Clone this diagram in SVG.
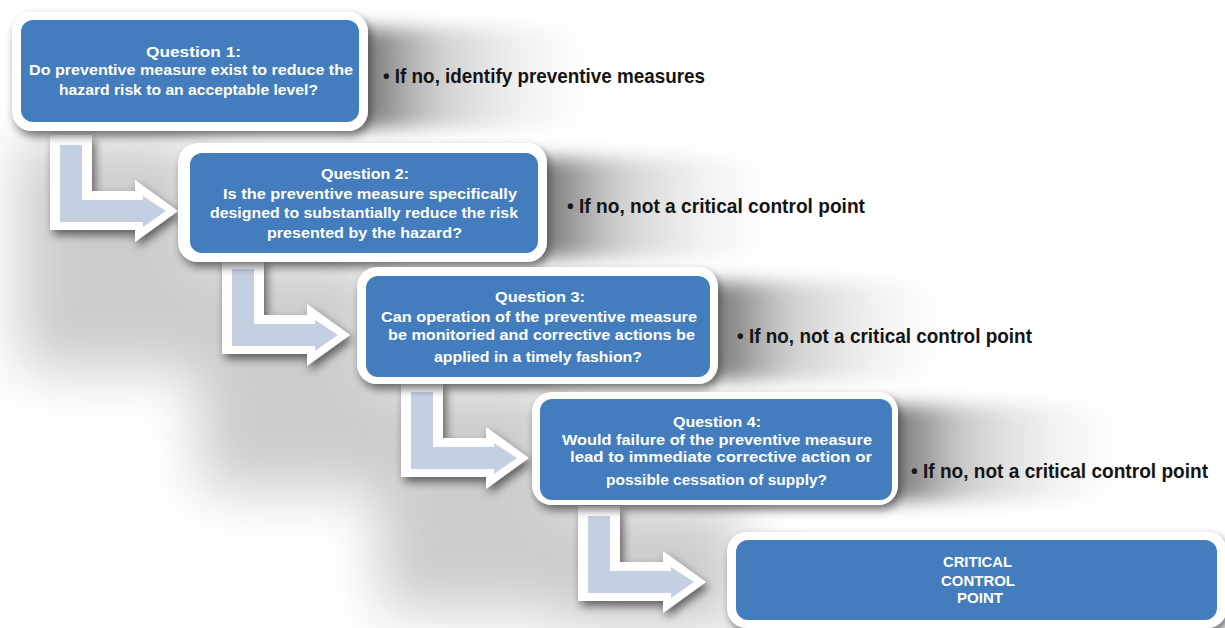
<svg xmlns="http://www.w3.org/2000/svg" width="1225" height="628" viewBox="0 0 1225 628">
<defs>
<style>
.outer{fill:#ffffff;}
.inner{fill:#437DBE;}
.bt{font-family:"Liberation Sans Narrow","Liberation Sans",Arial,sans-serif;font-weight:bold;font-size:15.5px;fill:#ffffff;}
.lb{font-family:"Liberation Sans Narrow","Liberation Sans",Arial,sans-serif;font-weight:bold;font-size:19.5px;fill:#141414;}
.aw{fill:#ffffff;}
.ai{fill:#C5CFE2;}
</style>
<filter id="sh" x="-20%" y="-30%" width="140%" height="160%">
<feGaussianBlur in="SourceAlpha" stdDeviation="5"/>
<feOffset dx="3" dy="5" result="b"/>
<feComponentTransfer><feFuncA type="linear" slope="0.55"/></feComponentTransfer>
<feMerge><feMergeNode/><feMergeNode in="SourceGraphic"/></feMerge>
</filter>
<filter id="blur" x="-30%" y="-30%" width="160%" height="160%">
<feGaussianBlur stdDeviation="28"/>
</filter>
<filter id="soft" x="-20%" y="-40%" width="140%" height="180%">
<feGaussianBlur stdDeviation="9"/>
</filter>
<linearGradient id="lg" x1="0" y1="0" x2="1" y2="0">
<stop offset="0" stop-color="#6a6a6a" stop-opacity="0.95"/>
<stop offset="0.3" stop-color="#b0b0b0" stop-opacity="0.6"/>
<stop offset="1" stop-color="#ffffff" stop-opacity="0"/>
</linearGradient>
<path id="aout" d="M50,135 L92,135 L92,191 L135,191 L135,180 L178,211 L135,242 L135,230 L50,230 Z"/>
<path id="ain" d="M60,145 L82,145 L82,200 L143,200 L143,196 L166,211 L143,227 L143,222 L60,222 Z"/>
</defs>

<g id="background">
<rect x="0" y="0" width="1225" height="628" fill="#ffffff"/>
<g filter="url(#blur)" opacity="0.5">
<polygon points="20,140 200,140 200,260 380,260 380,385 560,385 560,505 740,505 740,628 560,628 560,610 380,610 380,490 200,490 200,370 20,370" fill="#9a9a9a"/>
</g>
<g filter="url(#soft)">
<rect x="362" y="28" width="260" height="100" fill="url(#lg)"/>
<rect x="542" y="158" width="260" height="100" fill="url(#lg)"/>
<rect x="714" y="282" width="260" height="98" fill="url(#lg)"/>
<rect x="892" y="405" width="260" height="96" fill="url(#lg)"/>
</g>
</g>

<g id="connectors">
<g filter="url(#sh)"><use href="#aout" class="aw"/><use href="#ain" class="ai"/></g>
<g filter="url(#sh)" transform="translate(172,124)"><use href="#aout" class="aw"/><use href="#ain" class="ai"/></g>
<g filter="url(#sh)" transform="translate(351,247)"><use href="#aout" class="aw"/><use href="#ain" class="ai"/></g>
<g filter="url(#sh)" transform="translate(528,371)"><use href="#aout" class="aw"/><use href="#ain" class="ai"/></g>
</g>

<g id="q1">
<rect class="outer" x="12" y="12" width="356" height="119" rx="20" filter="url(#sh)"/>
<rect class="inner" x="21" y="20" width="338" height="102" rx="12"/>
<text class="bt" x="146" y="57" textLength="95" lengthAdjust="spacingAndGlyphs">Question 1:</text>
<text class="bt" x="29" y="75" textLength="324" lengthAdjust="spacingAndGlyphs">Do preventive measure exist to reduce the</text>
<text class="bt" x="59" y="95" textLength="259" lengthAdjust="spacingAndGlyphs">hazard risk to an acceptable level?</text>
</g>

<g id="label1">
<text class="lb" x="383" y="83" textLength="322" lengthAdjust="spacingAndGlyphs">• If no, identify preventive measures</text>
</g>

<g id="q2">
<rect class="outer" x="178" y="143" width="369" height="119" rx="20" filter="url(#sh)"/>
<rect class="inner" x="190" y="153" width="348" height="100" rx="12"/>
<text class="bt" x="321" y="179" textLength="88" lengthAdjust="spacingAndGlyphs">Question 2:</text>
<text class="bt" x="223" y="199" textLength="294" lengthAdjust="spacingAndGlyphs">Is the preventive measure specifically</text>
<text class="bt" x="210" y="218" textLength="308" lengthAdjust="spacingAndGlyphs">designed to substantially reduce the risk</text>
<text class="bt" x="267" y="238" textLength="195" lengthAdjust="spacingAndGlyphs">presented by the hazard?</text>
</g>

<g id="label2">
<text class="lb" x="567" y="213" textLength="298" lengthAdjust="spacingAndGlyphs">• If no, not a critical control point</text>
</g>

<g id="q3">
<rect class="outer" x="357" y="267" width="361" height="117" rx="20" filter="url(#sh)"/>
<rect class="inner" x="366" y="276" width="344" height="101" rx="12"/>
<text class="bt" x="495" y="302" textLength="90" lengthAdjust="spacingAndGlyphs">Question 3:</text>
<text class="bt" x="381" y="322" textLength="316" lengthAdjust="spacingAndGlyphs">Can operation of the preventive measure</text>
<text class="bt" x="388" y="340" textLength="307" lengthAdjust="spacingAndGlyphs">be monitoried and corrective actions be</text>
<text class="bt" x="434" y="362" textLength="208" lengthAdjust="spacingAndGlyphs">applied in a timely fashion?</text>
</g>

<g id="label3">
<text class="lb" x="737" y="343" textLength="295" lengthAdjust="spacingAndGlyphs">• If no, not a critical control point</text>
</g>

<g id="q4">
<rect class="outer" x="532" y="392" width="366" height="113" rx="20" filter="url(#sh)"/>
<rect class="inner" x="540" y="399" width="352" height="101" rx="12"/>
<text class="bt" x="673" y="427" textLength="88" lengthAdjust="spacingAndGlyphs">Question 4:</text>
<text class="bt" x="562" y="445" textLength="310" lengthAdjust="spacingAndGlyphs">Would failure of the preventive measure</text>
<text class="bt" x="570" y="462" textLength="302" lengthAdjust="spacingAndGlyphs">lead to immediate corrective action or</text>
<text class="bt" x="606" y="485" textLength="221" lengthAdjust="spacingAndGlyphs">possible cessation of supply?</text>
</g>

<g id="label4">
<text class="lb" x="911" y="478" textLength="297" lengthAdjust="spacingAndGlyphs">• If no, not a critical control point</text>
</g>

<g id="ccp">
<rect class="outer" x="727" y="532" width="500" height="96" rx="20" filter="url(#sh)"/>
<rect class="inner" x="736" y="540" width="481" height="80" rx="12"/>
<text class="bt" x="943" y="567" textLength="69" lengthAdjust="spacingAndGlyphs">CRITICAL</text>
<text class="bt" x="941" y="586" textLength="74" lengthAdjust="spacingAndGlyphs">CONTROL</text>
<text class="bt" x="957" y="603" textLength="46" lengthAdjust="spacingAndGlyphs">POINT</text>
</g>
</svg>
